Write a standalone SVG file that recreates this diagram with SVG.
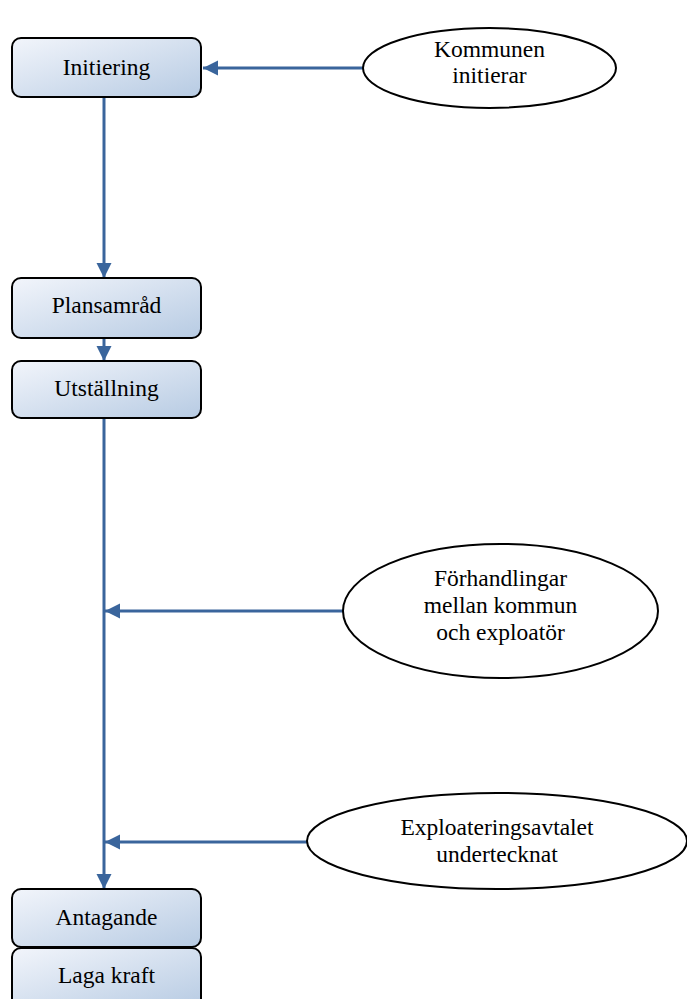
<svg xmlns="http://www.w3.org/2000/svg" width="687" height="999" viewBox="0 0 687 999">
  <defs>
    <linearGradient id="boxFill" x1="0" y1="0" x2="1" y2="1">
      <stop offset="0" stop-color="#f2f5fb"/>
      <stop offset="1" stop-color="#b7cbe3"/>
    </linearGradient>
    <marker id="arrow" viewBox="0 0 10 10" refX="10" refY="5" markerWidth="5" markerHeight="5.4" orient="auto" markerUnits="strokeWidth">
      <path d="M0,0 L10,5 L0,10 Z" fill="#3a659c"/>
    </marker>
    <style>
      .box { fill: url(#boxFill); stroke: #000; stroke-width: 2; }
      .oval { fill: #fff; stroke: #000; stroke-width: 2; }
      .label { font-family: "Liberation Serif", "Times New Roman", serif; font-size: 23.5px; fill: #000; text-anchor: middle; }
      .link { fill: none; stroke: #3a659c; stroke-width: 3; }
    </style>
  </defs>

  <rect width="687" height="999" fill="#fff"/>

  <g id="connectors">
    <line class="link" x1="363" y1="68" x2="203" y2="68" marker-end="url(#arrow)"/>
    <line class="link" x1="104" y1="97" x2="104" y2="278" marker-end="url(#arrow)"/>
    <line class="link" x1="104" y1="338" x2="104" y2="361" marker-end="url(#arrow)"/>
    <line class="link" x1="104" y1="418" x2="104" y2="889" marker-end="url(#arrow)"/>
    <line class="link" x1="343" y1="611" x2="105" y2="611" marker-end="url(#arrow)"/>
    <line class="link" x1="307" y1="842" x2="105" y2="842" marker-end="url(#arrow)"/>
  </g>

  <g id="initiering">
    <rect class="box" x="12" y="38" width="189" height="59" rx="9"/>
    <text class="label" x="106.5" y="75">Initiering</text>
  </g>

  <g id="plansamrad">
    <rect class="box" x="12" y="278" width="189" height="60" rx="9"/>
    <text class="label" x="106.5" y="313">Plansamråd</text>
  </g>

  <g id="utstallning">
    <rect class="box" x="12" y="361" width="189" height="57" rx="9"/>
    <text class="label" x="106.5" y="396">Utställning</text>
  </g>

  <g id="antagande">
    <rect class="box" x="12" y="889" width="189" height="58" rx="9"/>
    <text class="label" x="106.5" y="925">Antagande</text>
  </g>

  <g id="laga-kraft">
    <rect class="box" x="12" y="948" width="189" height="60" rx="9"/>
    <text class="label" x="106.5" y="983">Laga kraft</text>
  </g>

  <g id="kommunen-initierar">
    <ellipse class="oval" cx="489.5" cy="68" rx="126.5" ry="40"/>
    <text class="label" x="489.5" y="57">Kommunen</text>
    <text class="label" x="489.5" y="83">initierar</text>
  </g>

  <g id="forhandlingar">
    <ellipse class="oval" cx="500.5" cy="611" rx="157.5" ry="67"/>
    <text class="label" x="500.5" y="586">Förhandlingar</text>
    <text class="label" x="500.5" y="613">mellan kommun</text>
    <text class="label" x="500.5" y="640">och exploatör</text>
  </g>

  <g id="exploateringsavtalet">
    <ellipse class="oval" cx="497" cy="841" rx="190" ry="48"/>
    <text class="label" x="497" y="835">Exploateringsavtalet</text>
    <text class="label" x="497" y="862">undertecknat</text>
  </g>
</svg>
